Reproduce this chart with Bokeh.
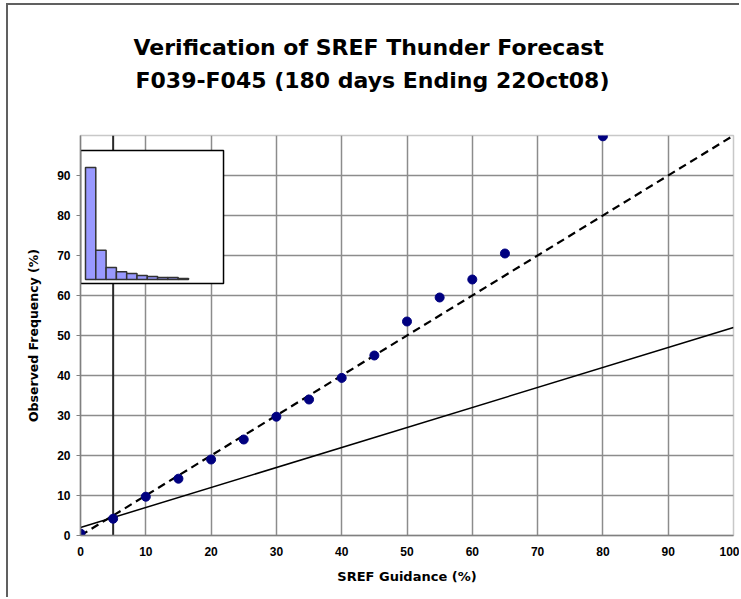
from bokeh.plotting import figure
from bokeh.models import Title, Range1d, FixedTicker
from bokeh.embed import file_html
from bokeh.resources import INLINE

# ---- data ----
guidance = [0, 5, 10, 15, 20, 25, 30, 35, 40, 45, 50, 55, 60, 65, 80]
observed = [0.5, 4.2, 9.7, 14.2, 19.0, 24.0, 29.7, 34.0, 39.4, 45.0, 53.5, 59.5, 64.0, 70.5, 99.8]
perfect_x = [0, 100]
perfect_y = [0, 100]
noskill_x = [0, 100]
noskill_y = [2, 52]
climo_x = 5
inset_bins = [0, 1, 2, 3, 4, 5, 6, 7, 8, 9]
inset_freq = [62.6, 16.3, 6.7, 4.4, 3.3, 2.2, 1.7, 1.1, 1.1, 0.6]
x_ticks = [0, 10, 20, 30, 40, 50, 60, 70, 80, 90, 100]
y_ticks = [0, 10, 20, 30, 40, 50, 60, 70, 80, 90]

TFONT = "DejaVu Sans"
FONT = "Liberation Sans"

p = figure(width=733, height=594, x_range=Range1d(0, 100), y_range=Range1d(0, 100),
           output_backend="svg", toolbar_location=None, title=None,
           min_border_left=72, min_border_right=8, min_border_top=130, min_border_bottom=64)
p.background_fill_color = "white"
p.border_fill_color = "white"
p.outline_line_color = "#c8c8c8"
p.outline_line_width = 1.5
# chart-area frame edges (left and top), as in the original picture
p.styles = {"margin-left": "6px", "margin-top": "3px",
            "border-left": "2px solid #606060", "border-top": "2px solid #606060"}

# titles (spacer first, nearest the frame)
spacer = Title(text=" ", text_font_size="1px", standoff=36)
t2 = Title(text="F039-F045 (180 days Ending 22Oct08)", align="left", offset=55,
           text_font=TFONT, text_font_size="22px", text_font_style="bold",
           text_color="black", standoff=8)
t1 = Title(text="Verification of SREF Thunder Forecast", align="left", offset=53,
           text_font=TFONT, text_font_size="22px", text_font_style="bold",
           text_color="black", standoff=4)
p.add_layout(spacer, "above")
p.add_layout(t2, "above")
p.add_layout(t1, "above")

# axes
p.xaxis.ticker = FixedTicker(ticks=x_ticks)
p.yaxis.ticker = FixedTicker(ticks=y_ticks)
for ax in (p.xaxis, p.yaxis):
    ax.axis_line_color = "#808080"
    ax.axis_line_width = 1.5
    ax.major_label_text_font = FONT
    ax.major_label_text_font_size = "12px"
    ax.major_label_text_font_style = "bold"
    ax.major_label_text_color = "black"
    ax.axis_label_text_font = TFONT
    ax.axis_label_text_font_style = "bold"
    ax.axis_label_text_color = "black"
    ax.minor_tick_line_color = None
    ax.major_tick_in = 0
p.xaxis.axis_label_text_font_size = "13px"
p.yaxis.axis_label_text_font_size = "12.5px"
p.xaxis.major_tick_out = 0
p.xaxis.major_label_standoff = 11
p.xaxis.axis_label = "SREF Guidance (%)"
p.xaxis.axis_label_standoff = 10
p.yaxis.major_tick_out = 4
p.yaxis.major_tick_line_color = "#808080"
p.yaxis.major_label_standoff = 6
p.yaxis.axis_label = "Observed Frequency (%)"
p.yaxis.axis_label_standoff = 13

p.xgrid.grid_line_color = "#8c8c8c"
p.ygrid.grid_line_color = "#8c8c8c"
p.xgrid.grid_line_width = 1.5
p.ygrid.grid_line_width = 1.5

# climatology vertical line
p.segment(x0=[climo_x], y0=[0], x1=[climo_x], y1=[100], line_color="#2a2a2a", line_width=2)

# inset histogram using extra ranges
p.extra_x_ranges = {"inset_x": Range1d(-0.485, 62.91)}
p.extra_y_ranges = {"inset_y": Range1d(-143.1, 80.5)}
p.quad(left=[-0.485], right=[13.4], bottom=[-2.24], top=[72.1],
       fill_color="white", line_color="black", line_width=1.5,
       x_range_name="inset_x", y_range_name="inset_y")
p.quad(left=inset_bins, right=[b + 1 for b in inset_bins], bottom=0, top=inset_freq,
       fill_color="#9999ff", line_color="#333333", line_width=1.5,
       x_range_name="inset_x", y_range_name="inset_y")

# reference lines
p.line(noskill_x, noskill_y, line_color="black", line_width=1.5)
p.line(perfect_x, perfect_y, line_color="black", line_width=2.2, line_dash="8 5")

# points
p.scatter(guidance, observed, size=9, fill_color="#000080", line_color="#000080")

open("out.html", "w").write(file_html(p, INLINE))
